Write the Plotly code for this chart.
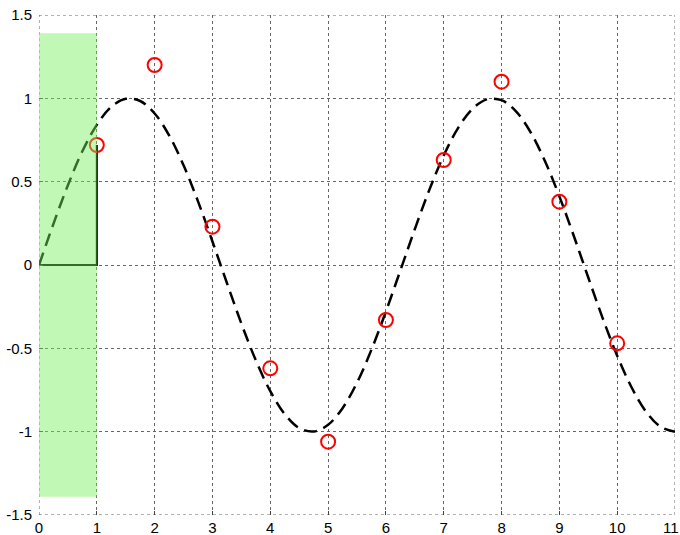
import plotly.graph_objects as go

# Smooth reference curve (sampled every 0.25)
curve_x = [0, 0.25, 0.5, 0.75, 1, 1.25, 1.5, 1.75, 2, 2.25, 2.5, 2.75, 3, 3.25, 3.5,
           3.75, 4, 4.25, 4.5, 4.75, 5, 5.25, 5.5, 5.75, 6, 6.25, 6.5, 6.75, 7, 7.25,
           7.5, 7.75, 8, 8.25, 8.5, 8.75, 9, 9.25, 9.5, 9.75, 10, 10.25, 10.5, 10.75, 11]
curve_y = [0.000, 0.247, 0.479, 0.682, 0.841, 0.949, 0.997, 0.984, 0.909, 0.778, 0.598,
           0.382, 0.141, -0.108, -0.351, -0.572, -0.757, -0.895, -0.978, -0.999, -0.959,
           -0.859, -0.706, -0.508, -0.279, -0.033, 0.215, 0.450, 0.657, 0.823, 0.938,
           0.994, 0.989, 0.922, 0.798, 0.624, 0.412, 0.174, -0.075, -0.320, -0.544,
           -0.735, -0.880, -0.970, -1.000]

# Noisy samples
sample_x = [1, 2, 3, 4, 5, 6, 7, 8, 9, 10]
sample_y = [0.72, 1.20, 0.23, -0.62, -1.06, -0.33, 0.63, 1.10, 0.38, -0.47]

# Step outline for the first sample
step_x = [0, 1, 1]
step_y = [0, 0, 0.72]

# Highlighted band
band_x = [0, 1]
band_y = [-1.39, 1.39]

x_range = [0, 11]
y_range = [-1.5, 1.5]
y_ticks = [-1.5, -1, -0.5, 0, 0.5, 1, 1.5]
y_labels = ["-1.5", "-1", "-0.5", "0", "0.5", "1", "1.5"]
x_ticks = list(range(0, 12))
# last label is placed separately so it stays inside the page
x_labels = [str(v) for v in x_ticks[:-1]] + [""]
last_x_label = str(x_ticks[-1])

GRID = "#666"
FONT = "Liberation Sans, Arial, sans-serif"

fig = go.Figure()
fig.add_trace(go.Scatter(x=curve_x, y=curve_y, mode="lines", line_shape="spline",
                         line=dict(color="black", width=2.5, dash="13px,7px")))
fig.add_trace(go.Scatter(x=step_x, y=step_y, mode="lines",
                         line=dict(color="black", width=2)))
fig.add_trace(go.Scatter(x=sample_x, y=sample_y, mode="markers",
                         marker=dict(symbol="circle-open", size=14, color="red",
                                     line=dict(width=2, color="red"))))

# Dotted frame lines on the axis limits (Plotly skips grid lines at the edges)
for xv in x_range:
    fig.add_shape(type="line", xref="x", yref="y", x0=xv, x1=xv,
                  y0=y_range[0], y1=y_range[1], layer="below",
                  line=dict(color=GRID, width=1, dash="dot"))
for yv in y_range:
    fig.add_shape(type="line", xref="x", yref="y", x0=x_range[0], x1=x_range[1],
                  y0=yv, y1=yv, layer="below",
                  line=dict(color=GRID, width=1, dash="dot"))

fig.add_shape(type="rect", x0=band_x[0], x1=band_x[1], y0=band_y[0], y1=band_y[1],
              xref="x", yref="y", layer="above", line=dict(width=0),
              fillcolor="rgba(120,240,90,0.45)")

fig.add_annotation(x=x_ticks[-1], y=0, xref="x", yref="paper", text=last_x_label,
                   showarrow=False, xanchor="right", yanchor="top", xshift=6, yshift=-2,
                   font=dict(family=FONT, size=15, color="black"))

fig.update_layout(
    width=680, height=535,
    margin=dict(l=39, r=5, t=15, b=20),
    paper_bgcolor="white", plot_bgcolor="white",
    showlegend=False,
    font=dict(family=FONT, size=15, color="black"),
)
fig.update_xaxes(range=x_range, tickvals=x_ticks, ticktext=x_labels, showgrid=True,
                 gridcolor=GRID, griddash="dot", gridwidth=1, zeroline=False,
                 showline=False, ticks="inside", ticklen=4, tickcolor="#444",
                 ticklabelstandoff=2, ticklabeloverflow="allow", automargin=False)
fig.update_yaxes(range=y_range, tickvals=y_ticks, ticktext=y_labels, showgrid=True,
                 gridcolor=GRID, griddash="dot", gridwidth=1, zeroline=False,
                 showline=False, ticks="inside", ticklen=4, tickcolor="#444",
                 ticklabelstandoff=6, ticklabeloverflow="allow", automargin=False)

fig.write_html("out.html")
